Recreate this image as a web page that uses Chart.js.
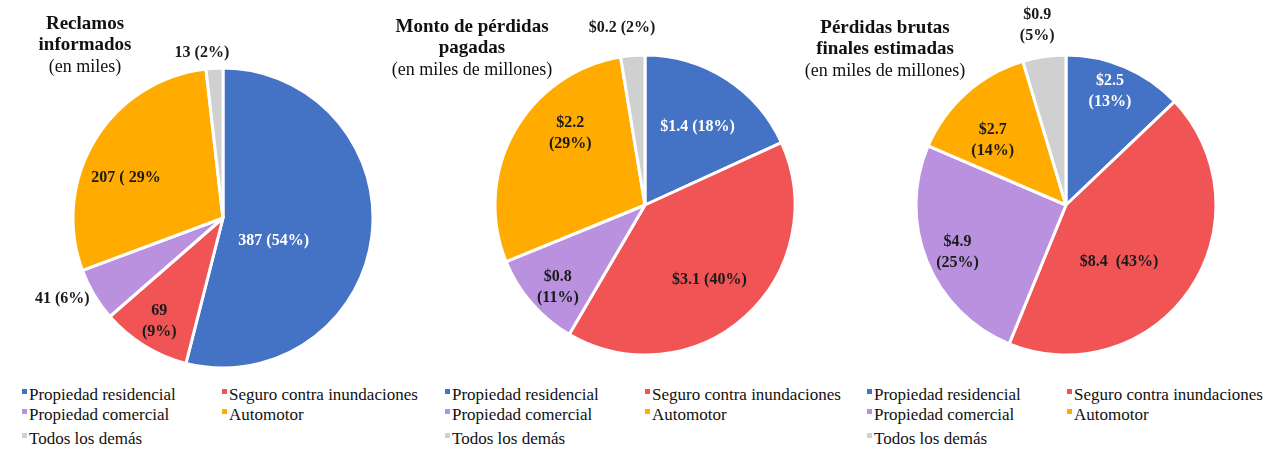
<!DOCTYPE html>
<html>
<head>
<meta charset="utf-8">
<script src="https://cdn.jsdelivr.net/npm/chart.js@4.4.1/dist/chart.umd.min.js"></script>
<style>
  body { margin: 0; background: #fff; }
  #wrap { position: relative; width: 1280px; height: 450px; overflow: hidden; font-family: 'Liberation Serif', 'Times New Roman', serif; color: #111; }
  canvas { position: absolute; left: 0; top: 0; }
  .titulo { position: absolute; text-align: center; font-size: 19px; line-height: 21px; transform: translateX(-50%); white-space: nowrap; }
  .titulo b { font-weight: bold; }
  .titulo span { display: block; font-size: 18px; margin-top: 2px; }
  .leyenda { position: absolute; font-size: 17px; white-space: nowrap; }
  .item { position: absolute; white-space: nowrap; line-height: 20px; }
  .item i { display: inline-block; width: 5px; height: 5px; margin-right: 2px; vertical-align: 6px; }
</style>
</head>
<body>
<div id="wrap">
  <canvas id="c1" width="1280" height="380"></canvas>
  <canvas id="c2" width="1280" height="380"></canvas>
  <canvas id="c3" width="1280" height="380"></canvas>
</div>
<script>
const categories = ['Propiedad residencial', 'Seguro contra inundaciones', 'Propiedad comercial', 'Automotor', 'Todos los demás'];
const colores = ['#4472C4', '#F05455', '#B991DE', '#FFAB00', '#D0D0D0'];

const reclamos = [387, 69, 41, 207, 13];
const reclamosLabels = [['387 (54%)'], ['69', '(9%)'], ['41 (6%)'], ['207 ( 29%'], ['13 (2%)']];

const pagadas = [1.4, 3.1, 0.8, 2.2, 0.2];
const pagadasLabels = [['$1.4 (18%)'], ['$3.1 (40%)'], ['$0.8', '(11%)'], ['$2.2', '(29%)'], ['$0.2 (2%)']];

const brutas = [2.5, 8.4, 4.9, 2.7, 0.9];
const brutasLabels = [['$2.5', '(13%)'], ['$8.4  (43%)'], ['$4.9', '(25%)'], ['$2.7', '(14%)'], ['$0.9', '(5%)']];

const fuente = "'Liberation Serif', 'Times New Roman', serif";

// etiquetas sobre cada porción: [fracción del radio, giro en grados]
const etiquetas = {
    id: 'etiquetas',
    afterDatasetsDraw(chart, args, opts) {
        const ctx = chart.ctx;
        const arcs = chart.getDatasetMeta(0).data;
        ctx.save();
        ctx.font = 'bold 16px ' + fuente;
        ctx.textAlign = 'center';
        ctx.textBaseline = 'middle';
        arcs.forEach((arc, i) => {
            const p = arc.getProps(['x', 'y', 'startAngle', 'endAngle', 'outerRadius'], true);
            const pos = opts.lugar[i];
            const ang = (p.startAngle + p.endAngle) / 2 + pos[1] * Math.PI / 180;
            const x = p.x + Math.cos(ang) * pos[0] * p.outerRadius;
            const y = p.y + Math.sin(ang) * pos[0] * p.outerRadius;
            const lineas = opts.textos[i];
            ctx.fillStyle = i === 0 && pos[0] < 1 ? '#ffffff' : '#1a1a1a';
            lineas.forEach((t, k) => {
                ctx.fillText(t, x, y + (k - (lineas.length - 1) / 2) * 21);
            });
        });
        ctx.restore();
    }
};

function hacerPie(id, valores, textos, cx, cy, lugar) {
    const h = 151.5;
    return new Chart(document.getElementById(id), {
        type: 'pie',
        data: {
            labels: categories,
            datasets: [{
                data: valores,
                backgroundColor: colores,
                borderColor: '#ffffff',
                borderWidth: 3
            }]
        },
        options: {
            responsive: false,
            animation: false,
            events: [],
            layout: {
                padding: { left: cx - h, right: 1280 - cx - h, top: cy - h, bottom: 380 - cy - h }
            },
            plugins: {
                legend: { display: false },
                tooltip: { enabled: false },
                etiquetas: { textos: textos, lugar: lugar }
            }
        },
        plugins: [etiquetas]
    });
}

hacerPie('c1', reclamos, reclamosLabels, 223, 218,
    [[0.37, 17], [0.81, 0], [1.2, 4], [0.70, -9], [1.11, -4]]);
hacerPie('c2', pagadas, pagadasLabels, 645, 205,
    [[0.63, 1], [0.66, 1.5], [0.8, -2.5], [0.69, 14.6], [1.19, -2.7]]);
hacerPie('c3', brutas, brutasLabels, 1066, 205,
    [[0.81, -2], [0.52, 12.8], [0.79, -1.5], [0.65, -7], [1.21, -0.8]]);

// títulos
const titulos = [
    { x: 85, y: 12, negrita: ['Reclamos', 'informados'], sub: '(en miles)' },
    { x: 472, y: 15, negrita: ['Monto de pérdidas', 'pagadas'], sub: '(en miles de millones)' },
    { x: 885, y: 16, negrita: ['Pérdidas brutas', 'finales estimadas'], sub: '(en miles de millones)' }
];
const wrap = document.getElementById('wrap');
titulos.forEach(t => {
    const d = document.createElement('div');
    d.className = 'titulo';
    d.style.left = t.x + 'px';
    d.style.top = t.y + 'px';
    d.innerHTML = t.negrita.map(s => '<b>' + s + '</b>').join('<br>') + '<span>' + t.sub + '</span>';
    wrap.appendChild(d);
});

// leyendas (dos columnas)
const leyendaX = [22, 445, 867];
const colX = [0, 200];
const filaY = [385, 405, 429];
const orden = [[0, 0, 0], [1, 1, 0], [2, 0, 1], [3, 1, 1], [4, 0, 2]];
leyendaX.forEach(lx => {
    orden.forEach(o => {
        const d = document.createElement('div');
        d.className = 'item leyenda';
        d.style.left = (lx + colX[o[1]]) + 'px';
        d.style.top = filaY[o[2]] + 'px';
        d.innerHTML = '<i style="background:' + colores[o[0]] + '"></i>' + categories[o[0]];
        wrap.appendChild(d);
    });
});
</script>
</body>
</html>
